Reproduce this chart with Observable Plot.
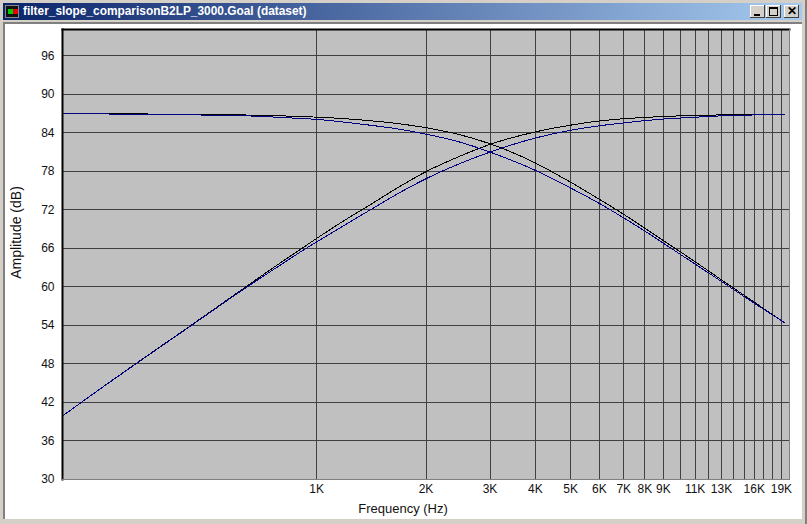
<!DOCTYPE html>
<html>
<head>
<meta charset="utf-8">
<script src="https://cdn.jsdelivr.net/npm/d3@7"></script>
<script src="https://cdn.jsdelivr.net/npm/@observablehq/plot@0.6"></script>
<style>
html,body{margin:0;padding:0;background:#d4d0c8;overflow:hidden}
#win{position:relative;width:807px;height:524px;background:#d4d0c8;overflow:hidden;font-family:"Liberation Sans",Arial,sans-serif}
#edgeR{position:absolute;left:805px;top:0;width:2px;height:524px;background:#808080}
#edgeL{position:absolute;left:3px;top:22px;width:2px;height:497px;background:#808080}
#edgeT{position:absolute;left:3px;top:22px;width:799px;height:2px;background:#808080}
#panel{position:absolute;left:5px;top:24px;width:797px;height:495px;background:#fff}
#bar{position:absolute;left:3px;top:3px;width:799px;height:17px;background:linear-gradient(90deg,#0a246a,#a6caef)}
#title{position:absolute;left:20px;top:1px;color:#fff;font:bold 11.9px/15px "Liberation Sans",Arial,sans-serif;white-space:nowrap}
#icon{position:absolute;left:2px;top:2px;width:14px;height:13px;background:#111;border:1px solid #888;box-sizing:border-box}
#icon i{position:absolute;top:3px;width:5px;height:5px;display:block}
.btn{position:absolute;top:2px;width:15px;height:13px;background:#d4d0c8;box-shadow:inset -1px -1px #404040,inset 1px 1px #fff;box-sizing:border-box}
#sv{position:absolute;left:0;top:24px}
#sv svg{display:block;background:transparent}
</style>
</head>
<body>
<div id="win">
  <div id="bar">
    <div id="icon"><i style="left:2px;background:#0c0"></i><i style="left:7px;background:#e00"></i></div>
    <div id="title">filter_slope_comparisonB2LP_3000.Goal (dataset)</div>
    <div class="btn" style="left:747px"><div style="position:absolute;left:4px;top:9px;width:6px;height:2px;background:#000"></div></div>
    <div class="btn" style="left:763px"><div style="position:absolute;left:3px;top:2px;width:9px;height:9px;border:1px solid #000;border-top-width:2px;box-sizing:border-box"></div></div>
    <div class="btn" style="left:781px;text-align:center;font:bold 12px/13px 'Liberation Sans',sans-serif;color:#000">✕</div>
  </div>
  <div id="edgeT"></div><div id="edgeL"></div><div id="edgeR"></div>
  <div id="panel"></div>
  <div id="sv"></div>
</div>
<script>
const freqs = [200,250,320,450,640,800,900,1000,1200,1400,1700,2000,2500,3000,4000,5000,6000,7000,8000,9000,10000,12000,13000,15000,17000,19000,19400];
const highBlack = [39.9,43.85,48.15,53.95,60.05,63.85,65.8,67.55,70.45,72.75,75.7,77.95,80.45,82.2,84.15,85.2,85.85,86.2,86.4,86.55,86.65,86.75,86.8,86.85,86.85,86.85,86.85];
const highBlue  = [39.9,43.85,48.1,53.9,59.9,63.5,65.4,67.0,69.7,71.95,74.75,76.85,79.3,81,83.2,84.4,85.1,85.55,85.9,86.15,86.3,86.55,86.65,86.75,86.82,86.85,86.85];
const lowBlack  = [87,87,86.95,86.88,86.78,86.65,86.55,86.45,86.2,85.9,85.4,84.8,83.65,82.3,79.3,76.3,73.65,71.3,69.15,67.2,65.5,62.45,61.1,58.7,56.6,54.75,54.4];
const lowBlue   = [87,86.95,86.9,86.8,86.65,86.4,86.25,86.1,85.65,85.2,84.55,83.8,82.5,81,78.15,75.4,73,70.75,68.7,66.8,65.1,62.15,60.85,58.5,56.5,54.75,54.4];
const gridFreqs = [1000,2000,3000,4000,5000,6000,7000,8000,9000,10000,11000,12000,13000,14000,15000,16000,17000,18000,19000];
const labelFreqs = [1000,2000,3000,4000,5000,6000,7000,8000,9000,11000,13000,16000,19000];
const ampTicks = [30,36,42,48,54,60,66,72,78,84,90,96];

const rows = s => freqs.map((f,i)=>({f,v:s[i]}));
const lineOpts = stroke => ({x:"f",y:"v",stroke,strokeWidth:1,curve:"monotone-x",shapeRendering:"crispEdges"});
const font = {fontFamily:"'Liberation Sans',Arial,sans-serif",fontSize:12,fill:"#111"};

const chart = Plot.plot({
  width:807,height:495,
  marginLeft:62,marginRight:18,marginTop:5,marginBottom:40,
  style:{background:"transparent",fontFamily:"'Liberation Sans',Arial,sans-serif",fontSize:"12px",color:"#111"},
  x:{type:"log",domain:[200,20000],label:null,axis:null},
  y:{domain:[30,100.1],label:null},
  marks:[
    Plot.frame({fill:"#c0c0c0",stroke:null}),
    Plot.ruleY(ampTicks.slice(1),{stroke:"#404040",strokeWidth:1,shapeRendering:"crispEdges"}),
    Plot.ruleX(gridFreqs,{stroke:"#404040",strokeWidth:1,shapeRendering:"crispEdges"}),
    Plot.line(rows(lowBlack),lineOpts("#000")),
    Plot.line(rows(highBlack),lineOpts("#000")),
    Plot.line(rows(lowBlue),lineOpts("#000080")),
    Plot.line(rows(highBlue),lineOpts("#000080")),
    Plot.frame({anchor:"top",stroke:"#000",strokeWidth:2}),
    Plot.frame({anchor:"left",stroke:"#000",strokeWidth:2}),
    Plot.frame({anchor:"right",stroke:"#808080",strokeWidth:1}),
    Plot.frame({anchor:"bottom",stroke:"#808080",strokeWidth:1}),
    Plot.axisY(ampTicks,{anchor:"left",tickSize:0,tickPadding:8,label:null,...font}),
    Plot.text(labelFreqs,{x:d=>d,text:d=>`${d/1000}K`,frameAnchor:"bottom",lineAnchor:"top",dy:5,...font}),
    Plot.text(["Frequency (Hz)"],{frameAnchor:"bottom",lineAnchor:"top",dx:-23,dy:24,...font,fontSize:13}),
    Plot.text(["Amplitude (dB)"],{frameAnchor:"left",textAnchor:"middle",rotate:-90,dx:-46,dy:-22,...font,fontSize:14})
  ]
});
document.getElementById("sv").appendChild(chart);
</script>
</body>
</html>
